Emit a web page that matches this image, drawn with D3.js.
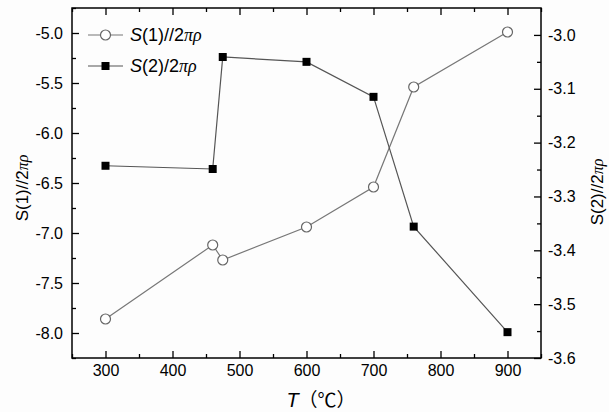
<!DOCTYPE html>
<html>
<head>
<meta charset="utf-8">
<script src="https://cdn.jsdelivr.net/npm/d3@7"></script>
<style>
  body { margin: 0; background: #fdfdfd; }
  text { font-family: "Liberation Sans", Arial, sans-serif; }
</style>
</head>
<body>
<div id="chart"></div>
<script>
// data
const temps = [300, 460, 475, 600, 700, 760, 900];
const s1 = [-7.86, -7.12, -7.27, -6.94, -6.54, -5.54, -4.99];
const s2 = [-3.243, -3.249, -3.041, -3.05, -3.115, -3.356, -3.552];
const xTicks = [300, 400, 500, 600, 700, 800, 900];
const leftTicks = [-8.0, -7.5, -7.0, -6.5, -6.0, -5.5, -5.0];
const rightTicks = [-3.6, -3.5, -3.4, -3.3, -3.2, -3.1, -3.0];

const margin = { top: 8, right: 68, bottom: 54, left: 72 };
const W = 609, H = 412;
const width = W - margin.left - margin.right;
const height = H - margin.top - margin.bottom;

const svg = d3.select("#chart").append("svg")
  .attr("width", W).attr("height", H);
const g = svg.append("g")
  .attr("transform", `translate(${margin.left},${margin.top})`);

const x = d3.scaleLinear().domain([250, 950]).range([0, width]);
const yL = d3.scaleLinear().domain([-8.25, -4.75]).range([height, 0]);
const yR = d3.scaleLinear().domain([-3.6, -2.95]).range([height, 0]);

// minor tick values
const xMinor = d3.range(250, 951, 50).filter(v => v % 100 !== 0);
const lMinor = d3.range(-8.25, -4.74, 0.25).filter(v => Math.abs(v * 2 - Math.round(v * 2)) > 0.01);
const rMinor = d3.range(-3.55, -2.95, 0.1);

function styleAxis(sel) {
  sel.select(".domain").remove();
  sel.selectAll("line").attr("stroke", "#000").attr("stroke-width", 1.3);
  sel.selectAll("text").attr("font-size", 16).attr("fill", "#000")
    .style("font-family", "'Liberation Sans', Arial, sans-serif");
}

// bottom axis
g.append("g").attr("transform", `translate(0,${height})`)
  .call(d3.axisBottom(x).tickValues(xTicks).tickSize(-7).tickPadding(7).tickFormat(d3.format("d")))
  .call(styleAxis);
g.append("g").attr("transform", `translate(0,${height})`)
  .call(d3.axisBottom(x).tickValues(xMinor).tickSize(-4).tickFormat(""))
  .call(styleAxis);
// top axis (ticks only)
g.append("g")
  .call(d3.axisTop(x).tickValues(xTicks).tickSize(-7).tickFormat(""))
  .call(styleAxis);
g.append("g")
  .call(d3.axisTop(x).tickValues(xMinor).tickSize(-4).tickFormat(""))
  .call(styleAxis);
// left axis
g.append("g")
  .call(d3.axisLeft(yL).tickValues(leftTicks).tickSize(-7).tickPadding(9).tickFormat(d3.format(".1f")))
  .call(styleAxis);
g.append("g")
  .call(d3.axisLeft(yL).tickValues(lMinor).tickSize(-4).tickFormat(""))
  .call(styleAxis);
// right axis
g.append("g").attr("transform", `translate(${width},0)`)
  .call(d3.axisRight(yR).tickValues(rightTicks).tickSize(-7).tickPadding(7).tickFormat(d3.format(".1f")))
  .call(styleAxis);
g.append("g").attr("transform", `translate(${width},0)`)
  .call(d3.axisRight(yR).tickValues(rMinor).tickSize(-4).tickFormat(""))
  .call(styleAxis);

// frame
g.append("rect").attr("width", width).attr("height", height)
  .attr("fill", "none").attr("stroke", "#000").attr("stroke-width", 1.5);

// minus signs in tick labels as hyphens like the original
g.selectAll(".tick text").text(function () { return d3.select(this).text().replace("−", "-"); });

// lines
const line1 = d3.line().x((d, i) => x(temps[i])).y(d => yL(d));
const line2 = d3.line().x((d, i) => x(temps[i])).y(d => yR(d));
g.append("path").datum(s1).attr("d", line1)
  .attr("fill", "none").attr("stroke", "#777").attr("stroke-width", 1.2);
g.append("path").datum(s2).attr("d", line2)
  .attr("fill", "none").attr("stroke", "#555").attr("stroke-width", 1.2);

// markers
g.selectAll(".c1").data(s1).enter().append("circle")
  .attr("cx", (d, i) => x(temps[i])).attr("cy", d => yL(d)).attr("r", 5)
  .attr("fill", "#fff").attr("stroke", "#666").attr("stroke-width", 1.2);
g.selectAll(".s2").data(s2).enter().append("rect")
  .attr("x", (d, i) => x(temps[i]) - 4).attr("y", d => yR(d) - 4)
  .attr("width", 8).attr("height", 8).attr("fill", "#000");

// label helper: S(n)..2πρ with serif italic πρ
function sLabel(sel, head, italicS, size) {
  const t = sel;
  t.append("tspan").text("S").style("font-style", italicS ? "italic" : "normal");
  t.append("tspan").text(head + "2");
  t.append("tspan").text("πρ")
    .style("font-family", "'Liberation Serif', 'Times New Roman', serif")
    .style("font-style", "italic").attr("font-size", size);
}

// legend
const leg = svg.append("g");
const lx = margin.left + 16, ly1 = 35, ly2 = 66;
leg.append("line").attr("x1", lx).attr("x2", lx + 35).attr("y1", ly1).attr("y2", ly1)
  .attr("stroke", "#777").attr("stroke-width", 1.2);
leg.append("circle").attr("cx", lx + 17.5).attr("cy", ly1).attr("r", 5)
  .attr("fill", "#fff").attr("stroke", "#666").attr("stroke-width", 1.2);
leg.append("line").attr("x1", lx).attr("x2", lx + 35).attr("y1", ly2).attr("y2", ly2)
  .attr("stroke", "#555").attr("stroke-width", 1.2);
leg.append("rect").attr("x", lx + 13.5).attr("y", ly2 - 4).attr("width", 8).attr("height", 8)
  .attr("fill", "#000");
leg.append("text").attr("x", lx + 42).attr("y", ly1 + 6).attr("font-size", 18)
  .call(sLabel, "(1)//", true, 18);
leg.append("text").attr("x", lx + 42).attr("y", ly2 + 6).attr("font-size", 18)
  .call(sLabel, "(2)/", true, 18);

// axis titles
svg.append("text")
  .attr("transform", "translate(28,188) rotate(-90)")
  .attr("text-anchor", "middle").attr("font-size", 17)
  .call(sLabel, "(1)//", false, 16);
svg.append("text")
  .attr("transform", "translate(603,192) rotate(-90)")
  .attr("text-anchor", "middle").attr("font-size", 17)
  .call(sLabel, "(2)//", false, 16);
const xt = svg.append("text")
  .attr("x", 321).attr("y", 407)
  .attr("text-anchor", "middle").attr("font-size", 20);
xt.append("tspan").text("T").style("font-style", "italic");
xt.append("tspan").text("（℃）")
  .style("font-family", "'Noto Sans CJK SC', sans-serif").attr("font-size", 19);
</script>
</body>
</html>
